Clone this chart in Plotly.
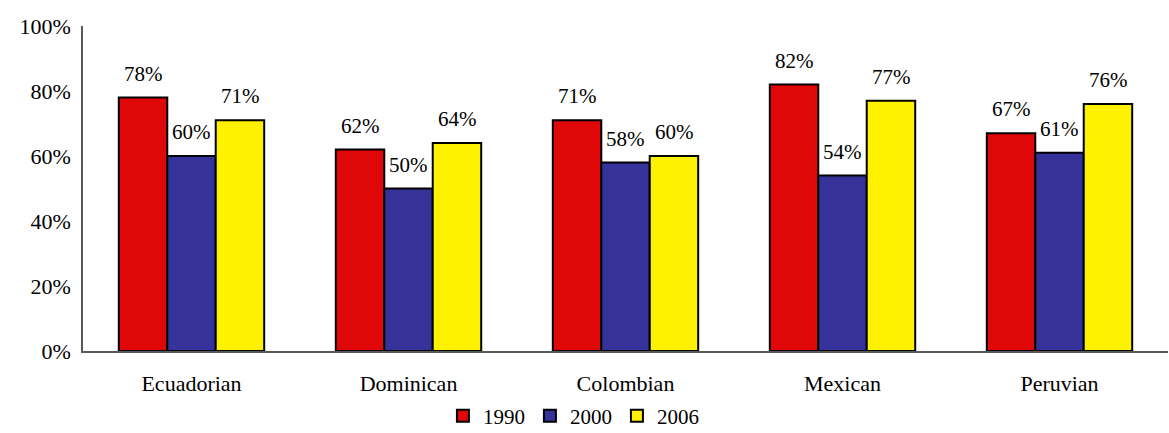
import plotly.graph_objects as go

groups = ["Ecuadorian", "Dominican", "Colombian", "Mexican", "Peruvian"]
years = ["1990", "2000", "2006"]
v1990 = [78, 62, 71, 82, 67]
v2000 = [60, 50, 58, 54, 61]
v2006 = [71, 64, 60, 77, 76]
tick_vals = [0, 20, 40, 60, 80, 100]
tick_text = ["0%", "20%", "40%", "60%", "80%", "100%"]

colors = ["#DF0707", "#353399", "#FFF200"]
series = [v1990, v2000, v2006]
font_name = "Liberation Serif"

fig = go.Figure()
for name, vals, col in zip(years, series, colors):
    fig.add_trace(go.Bar(
        x=groups, y=vals, name=name,
        marker=dict(color=col, line=dict(color="black", width=2)),
    ))

# value labels sit a bit above each bar
bar_px = 48.5
for i, vals in enumerate(series):
    for g, v in zip(groups, vals):
        fig.add_annotation(
            x=g, y=v, text=f"{v}%", showarrow=False,
            xshift=(i - 1) * bar_px, yshift=10, yanchor="bottom",
            font=dict(family=font_name, size=21, color="black"),
        )

fig.update_layout(
    barmode="group",
    bargap=0.33,
    bargroupgap=0,
    width=1169, height=433,
    margin=dict(l=83, r=1, t=26, b=82, autoexpand=False),
    plot_bgcolor="white", paper_bgcolor="white",
    font=dict(family=font_name, size=22, color="black"),
    showlegend=True,
    legend=dict(orientation="h", x=0.452, xanchor="center", y=-0.2, yanchor="middle",
                font=dict(family=font_name, size=21), itemwidth=30,
                tracegroupgap=0),
)
fig.update_xaxes(showline=True, linecolor="#595959", linewidth=1.5, ticks="",
                 tickfont=dict(family=font_name, size=22), ticklabelstandoff=12,
                 automargin=False)
fig.update_yaxes(range=[0, 100], tickvals=tick_vals, ticktext=tick_text,
                 showline=True, linecolor="#595959", linewidth=1.5, showgrid=False,
                 zeroline=False, ticks="", tickfont=dict(family=font_name, size=22),
                 ticklabelstandoff=6, automargin=False)

fig.write_html("out.html", config={"displayModeBar": False},
               post_script="document.body.style.margin='0';document.body.style.overflow='hidden';")
